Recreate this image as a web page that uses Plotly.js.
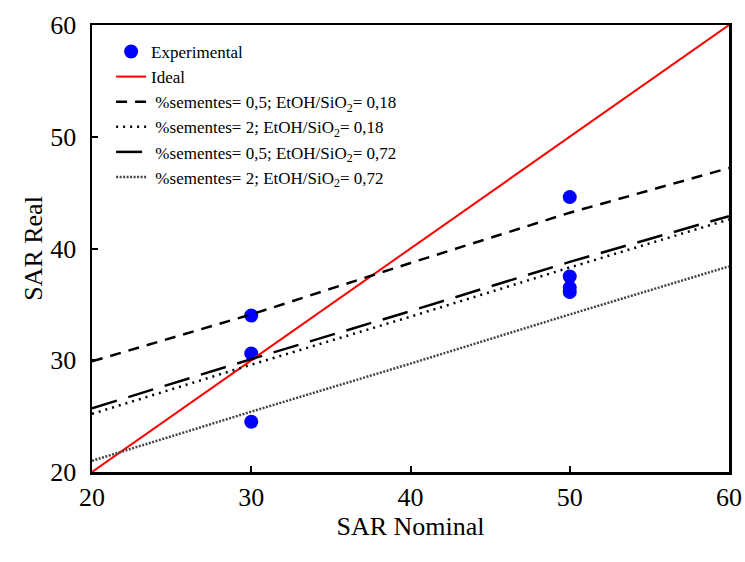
<!DOCTYPE html>
<html>
<head>
<meta charset="utf-8">
<script src="https://cdn.plot.ly/plotly-3.0.1.min.js"></script>
<style>html,body{margin:0;padding:0;background:#fff;}#chart{width:745px;height:562px;}</style>
</head>
<body>
<div id="chart"></div>
<script>
// Experimental points
var expX = [30, 30, 30, 50, 50, 50, 50];
var expY = [34.0, 30.6, 24.5, 44.6, 37.5, 36.5, 36.1];
// Ideal line
var idealX = [20, 60];
var idealY = [20, 60];
// Model lines
var modelX = [20, 30, 40, 50, 60];
var s05_018 = [29.9, 34.1, 38.7, 43.2, 47.2];
var s2_018 = [25.2, 29.6, 33.9, 38.3, 42.6];
var s05_072 = [25.7, 30.1, 34.4, 38.8, 42.9];
var s2_072 = [21.0, 25.4, 29.7, 34.1, 38.4];
var names = [
  'Experimental',
  'Ideal',
  ' %sementes= 0,5; EtOH/SiO<sub>2</sub>= 0,18',
  ' %sementes= 2; EtOH/SiO<sub>2</sub>= 0,18',
  ' %sementes= 0,5; EtOH/SiO<sub>2</sub>= 0,72',
  ' %sementes= 2; EtOH/SiO<sub>2</sub>= 0,72'
];

var traces = [
  {x: expX, y: expY, mode: 'markers', name: names[0], marker: {color: '#0000ff', size: 14}},
  {x: idealX, y: idealY, mode: 'lines', name: names[1], line: {color: '#ff0000', width: 2}},
  {x: modelX, y: s05_018, mode: 'lines', name: names[2], line: {color: '#000', width: 2.5, dash: '11px,8px'}},
  {x: modelX, y: s2_018, mode: 'lines', name: names[3], line: {color: '#000', width: 2.5, dash: '2px,5px'}},
  {x: modelX, y: s05_072, mode: 'lines', name: names[4], line: {color: '#000', width: 2.5, dash: '26px,12px'}},
  {x: modelX, y: s2_072, mode: 'lines', name: names[5], line: {color: '#444', width: 2.5, dash: '2px,1.5px'}}
];

var serif = '"Liberation Serif", "Times New Roman", serif';
var axFont = {family: serif, size: 26, color: '#000'};
var layout = {
  width: 745, height: 562,
  margin: {l: 92, r: 16, t: 25, b: 90},
  paper_bgcolor: '#fff', plot_bgcolor: '#fff',
  font: {family: serif, color: '#000'},
  showlegend: true,
  legend: {x: 0.03, y: 0.98, xanchor: 'left', yanchor: 'top', bgcolor: 'rgba(0,0,0,0)',
           font: {family: serif, size: 17, color: '#000'},
           tracegroupgap: 0},
  xaxis: {range: [20, 60], dtick: 10, showgrid: false, zeroline: false, showline: true, linecolor: '#000', linewidth: 2.5,
          mirror: true, ticks: 'inside', ticklen: 6, tickwidth: 2, tickcolor: '#000', tickfont: axFont,
          title: {text: 'SAR Nominal', font: {family: serif, size: 26, color: '#000'}, standoff: 0}},
  yaxis: {range: [20, 60], dtick: 10, showgrid: false, zeroline: false, showline: true, linecolor: '#000', linewidth: 2.5,
          mirror: true, ticks: 'inside', ticklen: 6, tickwidth: 2, tickcolor: '#000', tickfont: axFont,
          ticklabelstandoff: 8,
          title: {text: 'SAR Real', font: {family: serif, size: 26, color: '#000'}, standoff: 0}}
};
Plotly.newPlot('chart', traces, layout, {displayModeBar: false, staticPlot: true});
</script>
</body>
</html>
